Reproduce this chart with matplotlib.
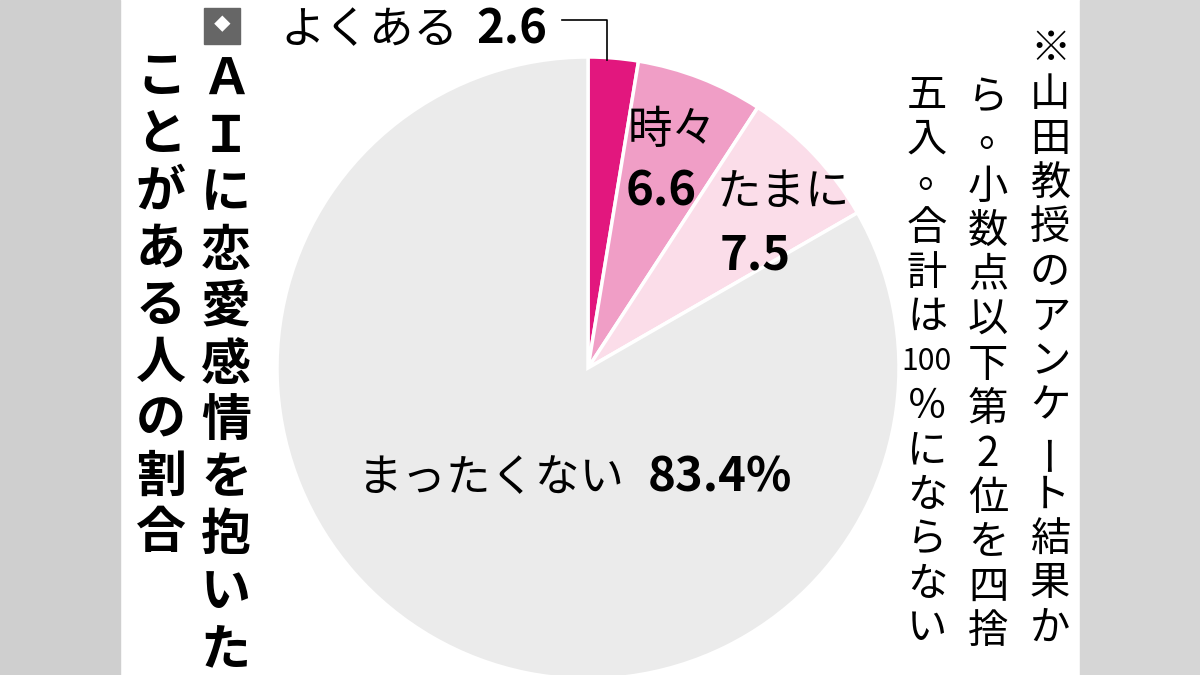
import matplotlib
matplotlib.use("Agg")
import matplotlib.pyplot as plt
from matplotlib.patches import Rectangle

plt.rcParams['font.family'] = ['Noto Sans CJK JP', 'DejaVu Sans']

categories = ["よくある", "時々", "たまに", "まったくない"]
values = [2.6, 6.6, 7.5, 83.4]
colors = ["#e2177e", "#f09ec6", "#fbdde9", "#ebebeb"]
title_cols = ["ＡＩに恋愛感情を抱いた", "ことがある人の割合"]
note_cols = ["※山田教授のアンケート結果か", "ら。小数点以下第2位を四捨", ["五", "入", "。", "合", "計", "は", "100", "％", "に", "な", "ら", "な", "い"]]

fig = plt.figure(figsize=(12, 6.75), dpi=100)
ax = fig.add_axes([0, 0, 1, 1])
ax.add_patch(Rectangle((0, 0), 120, 675, color="#cfcfcf", zorder=0))
ax.add_patch(Rectangle((1080, 0), 120, 675, color="#d6d6d6", zorder=0))

# y axis is inverted below, so counterclock=True appears clockwise on screen
wedges, _ = ax.pie(values, colors=colors, startangle=-90, counterclock=True,
                   center=(588, 368), radius=311,
                   wedgeprops=dict(edgecolor="white", linewidth=2.5), frame=True)
ax.set_xlim(0, 1200); ax.set_ylim(675, 0); ax.axis('off')
ax.set_aspect('auto')

# labels
ax.text(280, 30, categories[0], fontsize=32, va='center', ha='left')
ax.text(476, 30, f"{values[0]}", fontsize=34, fontweight='bold', va='center', ha='left')
ax.plot([562, 607, 607], [20, 20, 60], color='black', lw=1.2)
ax.text(628, 130, categories[1], fontsize=32, va='center', ha='left')
ax.text(626, 192, f"{values[1]}", fontsize=34, fontweight='bold', va='center', ha='left')
ax.text(717, 192, categories[2], fontsize=32, va='center', ha='left')
ax.text(720, 255, f"{values[2]}", fontsize=34, fontweight='bold', va='center', ha='left')
ax.text(358, 478, categories[3], fontsize=32, va='center', ha='left')
ax.text(648, 478, f"{values[3]}%", fontsize=34, fontweight='bold', va='center', ha='left')

# cube icon
ax.add_patch(Rectangle((204, 8), 36, 36, color="#666666", zorder=3))
ax.text(222, 26, "◆", fontsize=12, color="white", ha='center', va='center', zorder=4)

def vertical(x, y0, chars, step, size, weight='normal'):
    for i, c in enumerate(chars):
        rot = 90 if c in "ーｰ" else 0
        small = c in "。、"
        dx = 10 if small else 0
        dy = -8 if small else 0
        fs = size * 0.75 if c == "100" else size
        ax.text(x + dx, y0 + i * step + dy, c, fontsize=fs, fontweight=weight,
                ha='center', va='center', rotation=rot)

vertical(226, 80, list(title_cols[0]), 57, 36, 'bold')
vertical(161, 78, list(title_cols[1]), 57, 36, 'bold')
vertical(1050, 50, list(note_cols[0]), 44.5, 29)
vertical(988, 98, list(note_cols[1]), 44.5, 29)
vertical(927, 95, note_cols[2], 44.5, 29)

fig.savefig("out.png", dpi=100)
